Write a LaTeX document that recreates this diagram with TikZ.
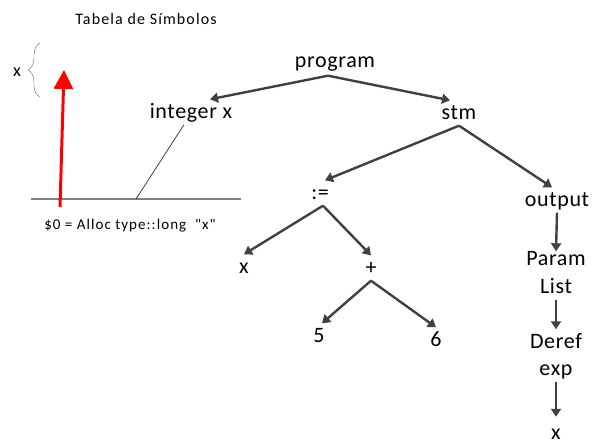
\documentclass[tikz,border=0pt]{standalone}
\usepackage{fontspec}
\setmainfont{Carlito}[LetterSpace=3]
\newfontfamily\tblfont{Carlito}[LetterSpace=7]
\usetikzlibrary{arrows.meta,decorations.pathreplacing}
\definecolor{treegray}{HTML}{404040}

\tikzset{
  ast/.style={font=\fontsize{22}{26}\selectfont,text height=16pt,text depth=4pt,
    inner xsep=1pt,inner ysep=2.5pt,anchor=base},
  tbl/.style={font=\tblfont\fontsize{15}{18}\selectfont,inner sep=0pt,anchor=base},
  link/.style={-{Triangle[length=8pt,width=10pt]},line width=2.4pt,color=treegray},
}

\begin{document}
\begin{tikzpicture}[x=1pt,y=-1pt]
\useasboundingbox (0,0) rectangle (592,445);
\node[tbl,font=\tblfont\fontsize{16}{19}\selectfont] (title) at (146,24) {Tabela de Símbolos};
\node[tbl] (alloc) at (130,229) {\$0 = Alloc type::long~~"x"};
\node[anchor=base,inner sep=0pt,font=\fontsize{18}{20}\selectfont] (xsym) at (17,76) {x};
\coordinate (braceTop) at (40,43);
\coordinate (braceBot) at (40,97);
\coordinate (tblL) at (31,199);
\coordinate (tblR) at (241,199);
\coordinate (tblRef) at (136,199);
\coordinate (redTail) at (60,207);
\coordinate (redHead) at (64,70);

\node[ast] (prog) at (335,67) {program};
\node[ast] (intx) at (191,118) {integer x};
\node[ast] (stm) at (459,119) {stm};
\node[ast] (assign) at (320,199) {:=};
\node[ast] (output) at (557,206) {output};
\node[ast] (lhs) at (244,273) {x};
\node[ast] (plus) at (371,274) {+};
\node[ast] (five) at (319,342) {5};
\node[ast] (six) at (436,346) {6};
\node[ast] (param) at (556,265) {Param};
\node[ast] (list) at (556,293) {List};
\node[ast] (deref) at (556,348) {Deref};
\node[ast] (expr) at (556,375) {exp};
\node[ast,text depth=0pt,inner ysep=1pt] (arg) at (556,439) {x};

\draw[gray!80!black,decorate,decoration={brace,amplitude=12pt}] (braceBot) -- (braceTop);
\draw[gray,line width=1.2pt] (tblL) -- (tblR);
\draw[treegray,line width=0.8pt] (tblRef) -- ([xshift=-7pt]intx.south);
\draw[red,line width=3pt,-{Triangle[length=19pt,width=19pt]}] (redTail) -- (redHead);

\path[link]
([xshift=-7pt,yshift=-2pt]prog.south) edge ([xshift=19pt]intx.north)
([xshift=-7pt,yshift=-2pt]prog.south) edge ([xshift=-9pt]stm.north)
(stm.south) edge ([xshift=5pt]assign.north)
(stm.south) edge ([xshift=-5pt]output.north)
([xshift=3pt]assign.south) edge (lhs.north)
([xshift=3pt]assign.south) edge (plus.north)
(plus.south) edge ([xshift=3pt]five.north)
(plus.south) edge (six.north)
(output.south) edge ([yshift=-5pt]param.north)
(list.south) edge (deref.north)
(expr.south) edge ([yshift=5pt]arg.north);
\end{tikzpicture}
\end{document}
